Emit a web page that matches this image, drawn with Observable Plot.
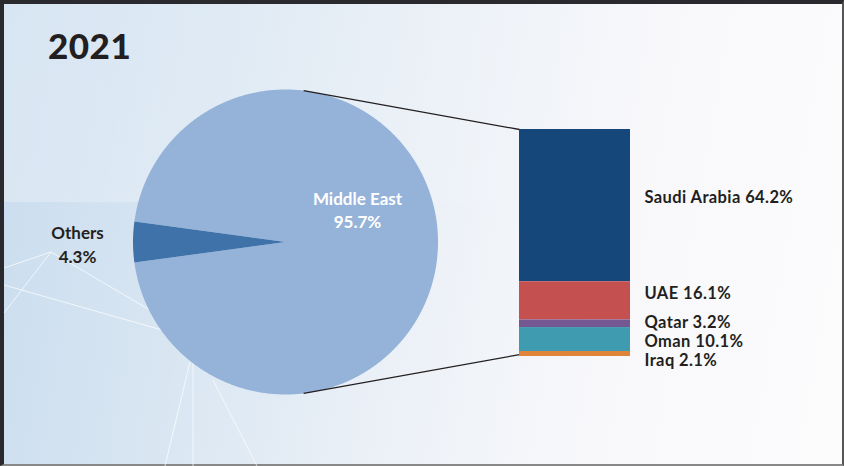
<!DOCTYPE html>
<html>
<head>
<meta charset="utf-8">
<script src="https://cdn.jsdelivr.net/npm/d3@7"></script>
<script src="https://cdn.jsdelivr.net/npm/@observablehq/plot@0.6"></script>
<style>
  html, body { margin: 0; padding: 0; width: 844px; height: 466px; overflow: hidden; background: #fff; }
  #frame {
    position: absolute; left: 0; top: 0; width: 844px; height: 466px; box-sizing: border-box;
    border-top: 4px solid #2a2a2e; border-left: 4px solid #2a2a2e; border-right: 2px solid #555; border-bottom: 2px solid #888;
    background: linear-gradient(100deg, #c9dcee 0%, #d9e6f2 25%, #ecf1f7 50%, #f8f8fb 72%, #fcfcfd 100%);
  }
  #toplight {
    position: absolute; left: 4px; top: 4px; width: 840px; height: 198px;
    background: linear-gradient(to right, rgba(255,255,255,0.28), rgba(255,255,255,0.12) 40%, rgba(255,255,255,0) 70%);
  }
  #deco { position: absolute; left: 0; top: 0; }
  #chart { position: absolute; left: 0; top: 0; }
  h1 {
    position: absolute; left: 48px; top: 24px; margin: 0;
    font-family: Lato, "Open Sans", sans-serif; font-weight: 900; font-size: 35px; color: #231f20; letter-spacing: 0.5px;
  }
  .barlabels text { letter-spacing: 0.4px; }
</style>
</head>
<body>
<div id="frame"></div>
<div id="toplight"></div>
<svg id="deco" width="844" height="466">
  <g stroke="#ffffff" stroke-opacity="0.7" stroke-width="1" fill="none">
    <line x1="4" y1="268" x2="51" y2="252"/>
    <line x1="51" y1="252" x2="4" y2="313"/>
    <line x1="51" y1="252" x2="150" y2="310"/>
    <line x1="4" y1="285" x2="162" y2="330"/>
    <line x1="190" y1="362" x2="165" y2="466"/>
    <line x1="193" y1="362" x2="193" y2="466"/>
    <line x1="213" y1="380" x2="257" y2="466"/>
  </g>
</svg>
<h1>2021</h1>
<div id="chart"></div>
<script>
// ---- data ----
const pieLabels = ["Middle East", "Others"];
const pieValues = [95.7, 4.3];
const pieColors = ["#95b3d9", "#3f72a8"];

const barLabels = ["Saudi Arabia", "UAE", "Qatar", "Oman", "Iraq"];
const barValues = [64.2, 16.1, 3.2, 10.1, 2.1];
const barColors = ["#15477a", "#c4504f", "#735891", "#3f9bb0", "#e0843a"];

// ---- layout (pixels, converted to chart units) ----
const W = 844, H = 466;
const k = 2.372;                 // pixels per percentage point
const barBottomPx = 356;
const toUx = px => px / k;
const toUy = py => (barBottomPx - py) / k;

const pieCx = toUx(285), pieCy = toUy(241.5), pieR = 152.5 / k;
const barX1 = toUx(519), barX2 = toUx(630);
const barLabelX = toUx(644);
const labelNudge = [-8, -7, -1.5, 2, 6.5];   // px, vertical label nudges

// pie: Others centered at 9 o'clock
const othersSpan = pieValues[1] / d3.sum(pieValues) * 2 * Math.PI;
const startAngle = 1.5 * Math.PI + othersSpan / 2;
const arcs = d3.pie().sort(null).startAngle(startAngle).endAngle(startAngle + 2 * Math.PI)(pieValues);

const pt = a => [pieCx + pieR * Math.sin(a), pieCy + pieR * Math.cos(a)];
const pieRows = [];
arcs.forEach((a, i) => {
  pieRows.push({name: pieLabels[i], x: pieCx, y: pieCy});
  const n = Math.max(8, Math.ceil((a.endAngle - a.startAngle) / 0.005));
  for (let j = 0; j <= n; j++) {
    const ang = a.startAngle + (a.endAngle - a.startAngle) * j / n;
    const [x, y] = pt(ang);
    pieRows.push({name: pieLabels[i], x, y});
  }
  pieRows.push({name: pieLabels[i], x: pieCx, y: pieCy});
});

// bar stack: first label on top
const total = d3.sum(barValues);
let acc = total;
const barRows = barLabels.map((name, i) => {
  const y2 = acc, y1 = acc - barValues[i];
  acc = y1;
  return {name, value: barValues[i], y1, y2, color: barColors[i],
          ly: (y1 + y2) / 2 - labelNudge[i] / k};
});

// connectors: from pie near top/bottom to bar corners
const connAngle = 0.119;
const [tx, ty] = pt(connAngle);
const [bx, by] = pt(Math.PI - connAngle);
const connectors = [
  {x1: tx, y1: ty, x2: barX1, y2: total},
  {x1: bx, y1: by, x2: barX1, y2: 0.8}
];

const font = "Lato, 'Open Sans', sans-serif";

const chart = Plot.plot({
  width: W, height: H,
  margin: 0,
  x: {domain: [0, W / k], range: [0, W], axis: null},
  y: {domain: [toUy(0), toUy(H)], range: [0, H], axis: null},
  style: {background: "transparent", fontFamily: font, overflow: "visible"},
  marks: [
    Plot.line(pieRows, {x: "x", y: "y", z: "name", sort: null,
      fill: d => pieColors[pieLabels.indexOf(d.name)], stroke: "none", curve: "linear"}),
    Plot.link(connectors, {x1: "x1", y1: "y1", x2: "x2", y2: "y2", stroke: "#231f20", strokeWidth: 1.3}),
    Plot.rect(barRows, {x1: barX1, x2: barX2, y1: "y1", y2: "y2", fill: "color"}),
    Plot.text(barRows, {x: barLabelX, y: "ly", text: d => `${d.name} ${d.value.toFixed(1)}%`,
      textAnchor: "start", fontSize: 16.5, fontWeight: 700, fill: "#231f20", className: "barlabels"}),
    Plot.text([0], {x: toUx(357), y: toUy(208.5), text: () => `${pieLabels[0]}\n${pieValues[0].toFixed(1)}%`,
      fontSize: 17, fontWeight: 700, fill: "#ffffff", lineHeight: 1.38}),
    Plot.text([0], {x: toUx(77), y: toUy(243), text: () => `${pieLabels[1]}\n${pieValues[1].toFixed(1)}%`,
      fontSize: 17, fontWeight: 700, fill: "#231f20", lineHeight: 1.38})
  ]
});
document.getElementById("chart").appendChild(chart);
</script>
</body>
</html>
